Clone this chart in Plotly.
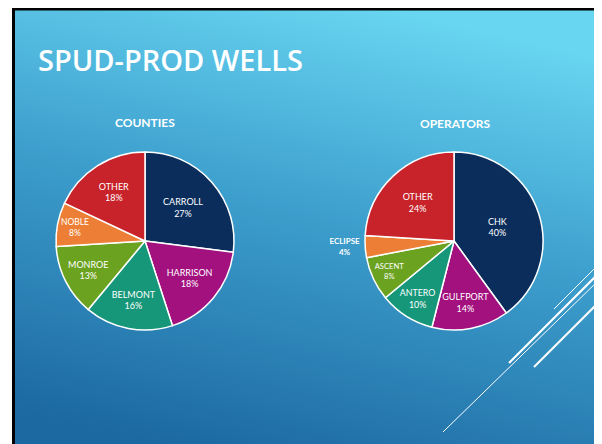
import base64
import plotly.graph_objects as go

W, H = 602, 444
OFF = 8  # page body margin offset in the screenshot

slide_title = "SPUD-PROD WELLS"

county_title = "COUNTIES"
county_labels = ["CARROLL", "HARRISON", "BELMONT", "MONROE", "NOBLE", "OTHER"]
county_values = [27, 18, 16, 13, 8, 18]

operator_title = "OPERATORS"
operator_labels = ["CHK", "GULFPORT", "ANTERO", "ASCENT", "ECLIPSE", "OTHER"]
operator_values = [40, 14, 10, 8, 4, 24]

slice_colors = ["#0a2d5c", "#a3117f", "#16977a", "#6ba21f", "#ec7f35", "#c8232a"]

def px_x(x):
    return (x - OFF) / W

def px_y(y):
    return 1 - (y - OFF) / H

# background gradient as inline SVG
svg = (
    '<svg xmlns="http://www.w3.org/2000/svg" width="600" height="450" preserveAspectRatio="none">'
    '<defs><linearGradient id="g" x1="0.65" y1="0" x2="0.35" y2="1">'
    '<stop offset="0" stop-color="#68d5f1"/>'
    '<stop offset="0.45" stop-color="#3d9fcd"/>'
    '<stop offset="1" stop-color="#1c68a1"/>'
    '</linearGradient></defs>'
    '<rect width="600" height="450" fill="url(#g)"/></svg>'
)
svg_uri = "data:image/svg+xml;base64," + base64.b64encode(svg.encode()).decode()

fig = go.Figure()

common = dict(
    sort=False,
    direction="clockwise",
    rotation=0,
    textinfo="label+percent",
    insidetextorientation="horizontal",
    marker=dict(colors=slice_colors, line=dict(color="white", width=1.5)),
    insidetextfont=dict(family="Lato", size=9, color="white"),
    outsidetextfont=dict(family="Lato", size=8, color="white", weight="bold"),
    hoverinfo="label+percent",
    showlegend=False,
)

fig.add_trace(go.Pie(
    labels=county_labels, values=county_values,
    domain=dict(x=[px_x(56), px_x(234)], y=[px_y(330), px_y(152)]),
    textposition="inside",
    **common,
))

op_pos = ["outside" if l == "ECLIPSE" else "inside" for l in operator_labels]
fig.add_trace(go.Pie(
    labels=operator_labels, values=operator_values,
    domain=dict(x=[px_x(365), px_x(543)], y=[px_y(330), px_y(152)]),
    textposition=op_pos,
    **common,
))

shapes = []
# decorative white diagonal lines
lines = [
    ((554, 309), (600, 263), 1.0),
    ((509, 363), (600, 272), 2.2),
    ((443, 432), (600, 279), 1.0),
    ((534, 367), (600, 301), 2.2),
]
for (x0, y0), (x1, y1), w in lines:
    shapes.append(dict(type="line", xref="paper", yref="paper",
                       x0=px_x(x0), y0=px_y(y0), x1=px_x(x1), y1=px_y(y1),
                       line=dict(color="white", width=w)))
# slide border
shapes.append(dict(type="rect", xref="paper", yref="paper",
                   x0=px_x(13.5), x1=px_x(598.5), y0=px_y(460), y1=px_y(9),
                   line=dict(color="black", width=3), fillcolor="rgba(0,0,0,0)"))

annotations = [
    dict(text=slide_title, xref="paper", yref="paper", x=px_x(36), y=px_y(59),
         xanchor="left", yanchor="middle", showarrow=False,
         font=dict(family="Open Sans", size=29, color="white", weight=600)),
    dict(text="<b>" + county_title + "</b>", xref="paper", yref="paper",
         x=px_x(145), y=px_y(122), xanchor="center", yanchor="middle", showarrow=False,
         font=dict(family="Lato", size=12, color="white")),
    dict(text="<b>" + operator_title + "</b>", xref="paper", yref="paper",
         x=px_x(455), y=px_y(123), xanchor="center", yanchor="middle", showarrow=False,
         font=dict(family="Lato", size=12, color="white")),
]

fig.update_layout(
    width=W, height=H,
    margin=dict(l=0, r=0, t=0, b=0),
    paper_bgcolor="white",
    plot_bgcolor="white",
    shapes=shapes,
    annotations=annotations,
    images=[dict(source=svg_uri, xref="paper", yref="paper",
                 x=px_x(15), y=px_y(10), sizex=(598 - 15) / W, sizey=(460 - 10) / H,
                 xanchor="left", yanchor="top", sizing="stretch", layer="below")],
)

fig.write_html("out.html")
